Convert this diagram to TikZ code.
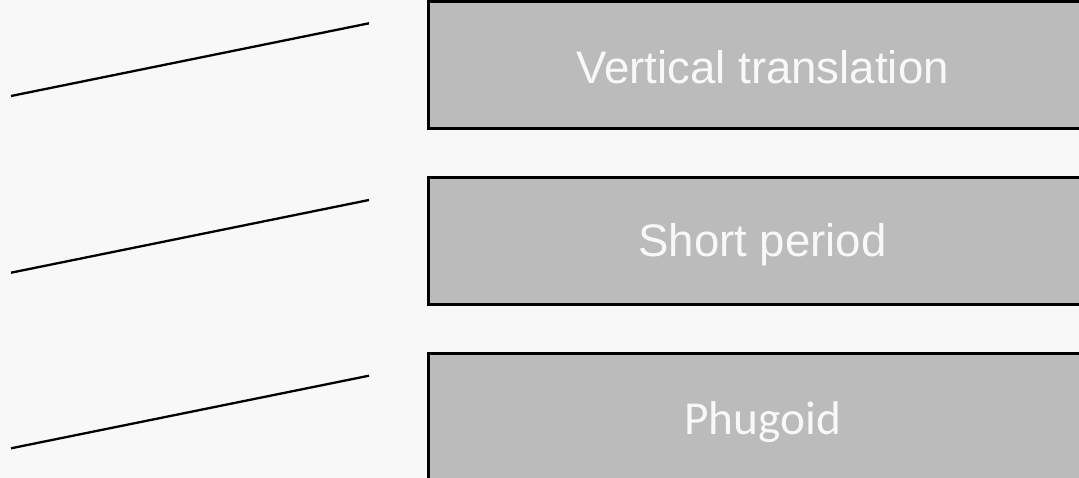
\documentclass[tikz,border=0pt]{standalone}
\usepackage{fontspec}
\setmainfont{Liberation Sans}
\newfontfamily\phugfont{Carlito}
\definecolor{bg}{HTML}{F8F8F8}
\definecolor{boxfill}{HTML}{BBBBBB}
\definecolor{txt}{HTML}{F8F8F8}
\begin{document}
\begin{tikzpicture}[x=1pt,y=-1pt,
  modebox/.style={draw=black, line width=3pt, fill=boxfill, inner sep=0pt,
    minimum width=669pt, minimum height=127.5pt, anchor=north west,
    text=txt, font=\fontsize{45.6}{50}\selectfont, text depth=0pt},
  slant/.style={draw=black, line width=2.3pt}]
\useasboundingbox (0,0) rectangle (1079,478);
\fill[bg] (0,0) rectangle (1079,478);
\clip (0,0) rectangle (1079,478);
\node[modebox, text height=36.5pt] (vt) at (426.5,0) {Vertical translation};
\node[modebox, text height=30pt] (sp) at (426.5,176) {Short period};
\node[modebox, text height=34.5pt, font=\phugfont\fontsize{47.3}{52}\selectfont] (ph) at (426.5,352) {Phugoid};
\coordinate (a1) at (11,96);
\coordinate (b1) at (369,23.3);
\coordinate (a2) at (11,272.7);
\coordinate (b2) at (369,200);
\coordinate (a3) at (11,448.3);
\coordinate (b3) at (369,375.7);
\draw[slant] (a1) -- (b1);
\draw[slant] (a2) -- (b2);
\draw[slant] (a3) -- (b3);
\end{tikzpicture}
\end{document}
